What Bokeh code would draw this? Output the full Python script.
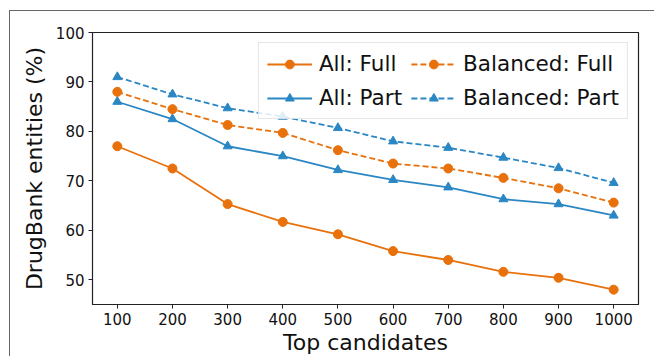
from bokeh.plotting import figure
from bokeh.models import Legend, LegendItem, FixedTicker, Range1d
from bokeh.embed import file_html
from bokeh.resources import INLINE

candidates = [100, 200, 300, 400, 500, 600, 700, 800, 900, 1000]
all_full = [77.0, 72.5, 65.3, 61.7, 59.2, 55.8, 54.0, 51.6, 50.4, 48.0]
all_part = [86.0, 82.5, 77.0, 75.0, 72.2, 70.2, 68.7, 66.3, 65.3, 63.0]
bal_full = [88.0, 84.5, 81.3, 79.7, 76.2, 73.5, 72.5, 70.6, 68.5, 65.6]
bal_part = [91.0, 87.5, 84.7, 83.0, 80.7, 78.0, 76.7, 74.7, 72.6, 69.6]
y_ticks = [50, 60, 70, 80, 90, 100]

ORANGE = "#e8710c"
BLUE = "#2a87c4"
FONT = "DejaVu Sans"

p = figure(width=645, height=346, output_backend="svg", toolbar_location=None,
           x_range=Range1d(55, 1045), y_range=Range1d(45, 100),
           min_border_left=82, min_border_top=21, min_border_right=17, min_border_bottom=47,
           margin=(10, 0, 0, 9),
           styles={"border-top": "1px solid #666666", "border-left": "1px solid #666666"})

p.xgrid.visible = False
p.ygrid.visible = False
p.outline_line_color = "#222222"
p.outline_line_width = 1.2

p.xaxis.ticker = FixedTicker(ticks=candidates)
p.yaxis.ticker = FixedTicker(ticks=y_ticks)
for ax in (p.xaxis[0], p.yaxis[0]):
    ax.axis_line_color = "#222222"
    ax.major_tick_line_color = "#222222"
    ax.major_tick_out = 4
    ax.major_tick_in = 0
    ax.minor_tick_line_color = None
    ax.major_label_text_font = FONT
    ax.major_label_text_font_size = "15px"
    ax.major_label_text_color = "#111111"
    ax.axis_label_text_font = FONT
    ax.axis_label_text_font_size = "22px"
    ax.axis_label_text_font_style = "normal"
    ax.axis_label_text_color = "#111111"
    ax.major_label_standoff = 4
p.xaxis.axis_label = "Top candidates"
p.yaxis.axis_label = "DrugBank entities (%)"
p.xaxis.axis_label_standoff = 2
p.yaxis.axis_label_standoff = 6

series = [
    ("All: Full", all_full, ORANGE, "solid", "circle"),
    ("All: Part", all_part, BLUE, "solid", "triangle"),
    ("Balanced: Full", bal_full, ORANGE, "6 3", "circle"),
    ("Balanced: Part", bal_part, BLUE, "6 3", "triangle"),
]
items = []
for name, ys, col, dash, marker in series:
    l = p.line(candidates, ys, line_color=col, line_width=1.8, line_dash=dash)
    s = p.scatter(candidates, ys, marker=marker, size=9, fill_color=col, line_color=col)
    items.append(LegendItem(label=name, renderers=[l, s]))

legend = Legend(items=items, ncols=2, location="top_right",
                label_text_font=FONT, label_text_font_size="21.5px", label_text_color="#111111",
                glyph_width=45, glyph_height=22, label_height=22, label_standoff=7,
                spacing=9, padding=8, margin=10,
                border_line_color="#cccccc", border_line_width=1,
                background_fill_color="white", background_fill_alpha=0.85)
p.add_layout(legend, "center")

open("out.html", "w").write(file_html(p, INLINE))
